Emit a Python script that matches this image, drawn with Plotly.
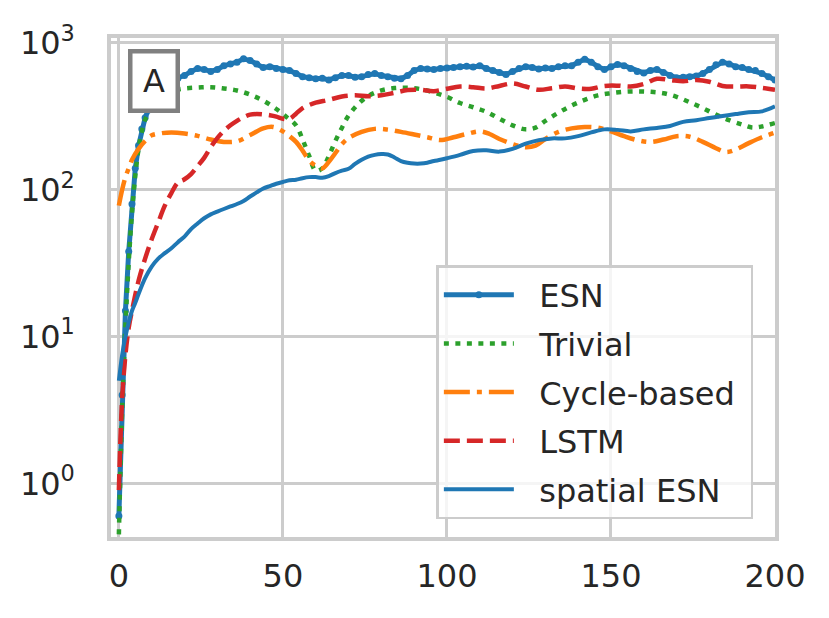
import plotly.graph_objects as go

# ESN (line with a marker at every step)
esn_x = list(range(0, 15)) + list(range(16, 201, 2))
esn_y = [0.6, 4.0, 15, 38, 80, 140, 200, 260, 310, 350, 380, 410, 450, 490, 520,
         560, 575, 600, 640, 670, 660, 640, 660, 700, 720, 740, 780, 760, 720, 680,
         690, 670, 660, 650, 620, 590, 580, 570, 575, 560, 580, 600, 600, 585, 590,
         610, 620, 600, 590, 575, 570, 600, 650, 670, 665, 660, 670, 675, 680, 690,
         695, 685, 700, 670, 650, 630, 610, 640, 670, 690, 680, 665, 675, 670, 690,
         700, 700, 740, 775, 740, 690, 660, 690, 715, 700, 670, 640, 625, 650, 660,
         630, 600, 580, 585, 590, 595, 620, 660, 710, 740, 720, 690, 680, 660, 650,
         620, 590, 560]

trivial_x = [0, 1, 2, 3, 4, 5, 6, 7, 8, 10, 12, 14, 17, 20, 24, 28, 32, 36, 40, 44,
             48, 51, 54, 56, 58, 60, 62, 64, 66, 68, 70, 73, 76, 80, 84, 88, 92, 96,
             100, 104, 108, 112, 116, 120, 124, 127, 130, 134, 138, 142, 146, 150,
             154, 158, 162, 166, 170, 174, 178, 182, 186, 190, 193, 196, 200]
trivial_y = [0.45, 3.2, 12, 32, 70, 125, 190, 250, 300, 360, 400, 440, 475, 490, 497,
             500, 490, 475, 445, 405, 355, 315, 275, 220, 170, 135, 140, 170, 215, 265,
             320, 385, 435, 475, 493, 495, 485, 460, 430, 390, 365, 340, 305, 275, 258,
             265, 295, 335, 375, 410, 440, 455, 465, 468, 465, 455, 430, 395, 360, 325,
             298, 278, 266, 270, 285]

cycle_x = [0, 1, 2, 3, 4, 6, 8, 10, 13, 16, 20, 24, 28, 32, 36, 40, 44, 47, 50, 52,
           54, 56, 58, 60, 62, 64, 66, 68, 70, 74, 78, 82, 86, 90, 94, 98, 102, 106,
           110, 113, 116, 120, 124, 127, 130, 134, 138, 142, 146, 150, 154, 158, 162,
           166, 170, 174, 178, 182, 185, 188, 192, 196, 200]
cycle_y = [78, 100, 122, 140, 160, 190, 215, 235, 243, 246, 242, 233, 220, 212, 214,
           236, 262, 268, 250, 232, 212, 185, 158, 146, 140, 155, 178, 205, 225, 248,
           260, 257, 248, 238, 228, 218, 228, 240, 250, 240, 222, 205, 195, 200, 222,
           248, 262, 268, 265, 250, 232, 218, 212, 220, 232, 230, 212, 192, 181, 188,
           208, 228, 245]

lstm_x = [0, 1, 2, 3, 4, 6, 8, 10, 12, 14, 16, 18, 20, 22, 24, 26, 28, 30, 32, 34,
          36, 38, 40, 42, 44, 46, 48, 50, 52, 54, 56, 58, 60, 64, 68, 72, 76, 80, 84,
          88, 92, 96, 100, 104, 108, 112, 116, 120, 124, 128, 132, 136, 140, 144, 148,
          152, 156, 160, 164, 168, 172, 176, 180, 184, 188, 192, 196, 200]
lstm_y = [0.9, 3.8, 7.5, 11.5, 15, 24, 34, 46, 60, 78, 95, 112, 118, 128, 145, 165,
          195, 225, 252, 275, 295, 312, 325, 328, 326, 322, 315, 305, 305, 330, 360,
          378, 392, 410, 432, 440, 433, 440, 458, 478, 480, 470, 488, 505, 500, 490,
          510, 530, 505, 480, 492, 506, 490, 488, 510, 512, 505, 525, 570, 560, 548,
          560, 545, 510, 505, 506, 495, 480]

spatial_x = [0, 1, 2, 3, 4, 5, 6, 8, 10, 12, 14, 16, 18, 20, 22, 24, 26, 28, 30, 32,
             34, 36, 38, 40, 42, 44, 46, 48, 50, 52, 54, 56, 58, 60, 62, 64, 66, 68,
             70, 72, 74, 76, 78, 80, 82, 84, 86, 88, 90, 92, 94, 96, 98, 100, 104, 108,
             112, 116, 120, 124, 128, 132, 136, 140, 144, 148, 152, 156, 160, 164, 168,
             172, 176, 180, 184, 188, 192, 196, 200]
spatial_y = [5, 7.5, 10, 12.5, 15, 17, 19.5, 25, 30, 34, 37, 40, 44, 48, 54, 59, 64,
             68, 71, 74, 77, 80, 84, 90, 96, 102, 106, 110, 113, 116, 117, 120, 122,
             122, 121, 124, 130, 135, 139, 150, 160, 168, 173, 175, 174, 166, 157, 153,
             151, 151, 153, 157, 160, 164, 173, 184, 186, 182, 190, 206, 218, 224, 224,
             232, 246, 258, 256, 250, 258, 264, 272, 290, 298, 308, 318, 328, 338, 342,
             370]

x_ticks = [0, 50, 100, 150, 200]
y_ticks = [1, 10, 100, 1000]
y_tick_labels = ['10<sup>0</sup>', '10<sup>1</sup>', '10<sup>2</sup>', '10<sup>3</sup>']

BLUE, GREEN, ORANGE, RED = '#1f77b4', '#2ca02c', '#ff7f0e', '#d62728'
GRID = '#cccccc'
TEXT = '#262626'
PAD = '\u00a0\u00a0'  # gap between legend symbol and label

fig = go.Figure()
fig.add_trace(go.Scatter(x=esn_x, y=esn_y, name=PAD + 'ESN', mode='lines+markers',
                         line=dict(color=BLUE, width=5),
                         marker=dict(color=BLUE, size=7, line=dict(width=0)),
                         legendgroup='a'))
fig.add_trace(go.Scatter(x=trivial_x, y=trivial_y, name=PAD + 'Trivial', mode='lines',
                         line=dict(color=GREEN, width=4.5, dash='5px,6.5px', shape='spline'),
                         legendgroup='b'))
fig.add_trace(go.Scatter(x=cycle_x, y=cycle_y, name=PAD + 'Cycle-based\u00a0', mode='lines',
                         line=dict(color=ORANGE, width=4.5, dash='26px,7px,5px,7px', shape='spline'),
                         legendgroup='c'))
fig.add_trace(go.Scatter(x=lstm_x, y=lstm_y, name=PAD + 'LSTM', mode='lines',
                         line=dict(color=RED, width=4.5, dash='16px,7px', shape='spline'),
                         legendgroup='d'))
fig.add_trace(go.Scatter(x=spatial_x, y=spatial_y, name=PAD + 'spatial ESN', mode='lines',
                         line=dict(color=BLUE, width=4, shape='spline'),
                         legendgroup='e'))

fig.add_annotation(text='A', xref='paper', yref='paper', x=0.0655, y=0.914,
                   xanchor='center', yanchor='middle', showarrow=False,
                   font=dict(size=32, color=TEXT), width=41, height=53,
                   bgcolor='white', bordercolor='#808080', borderwidth=4.5, borderpad=1)

# the page puts the figure 8px in from the top-left corner
fig.update_layout(
    width=829, height=618,
    margin=dict(l=101, r=62, t=30, b=89),
    plot_bgcolor='white', paper_bgcolor='white',
    font=dict(family='DejaVu Sans', size=32, color=TEXT),
    legend=dict(x=0.49, y=0.545, xanchor='left', yanchor='top',
                bgcolor='rgba(255,255,255,0.8)', bordercolor=GRID, borderwidth=2.5,
                tracegroupgap=4, itemwidth=70, font=dict(size=32)),
)
fig.update_xaxes(range=[-2.4, 200], tickvals=x_ticks, showgrid=True, gridcolor=GRID,
                 gridwidth=2.5, showline=True, linecolor=GRID, linewidth=3.5, mirror=True,
                 zeroline=False, ticks='', ticklabelstandoff=8)
fig.update_yaxes(type='log', range=[-0.365, 3.034], tickvals=y_ticks, ticktext=y_tick_labels,
                 showgrid=True, gridcolor=GRID, gridwidth=2.5, showline=True, linecolor=GRID,
                 linewidth=3.5, mirror=True, zeroline=False, ticks='', ticklabelstandoff=26)

fig.write_html('out.html')
